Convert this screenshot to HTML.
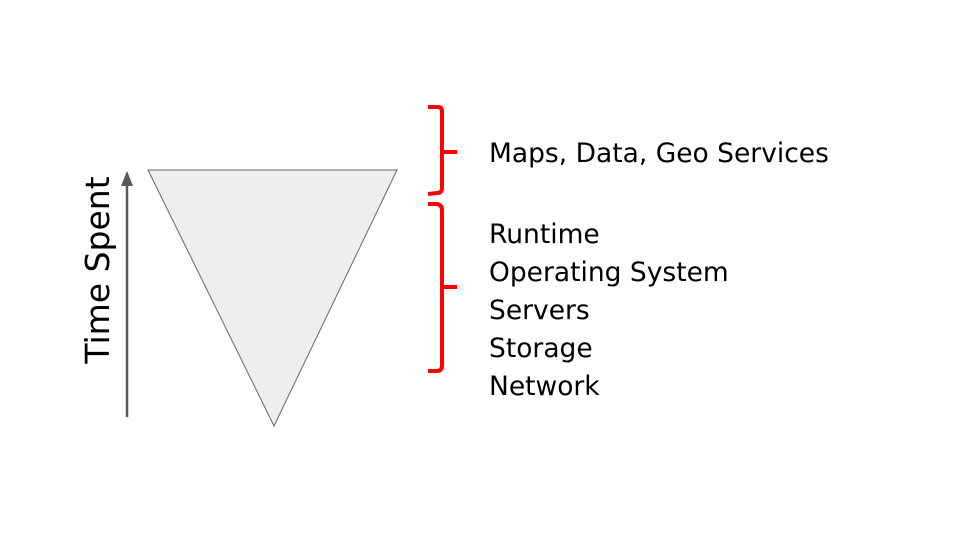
<!DOCTYPE html>
<html><head><style>
body{margin:0;width:960px;height:540px;background:#fff;overflow:hidden;position:relative;font-family:"DejaVu Sans","Liberation Sans",sans-serif;}
.t{position:absolute;left:489px;font-size:26.5px;color:#000;line-height:38px;white-space:nowrap;}
</style></head><body>
<svg width="960" height="540" style="position:absolute;left:0;top:0">
<polygon points="148,170 397,170 274,426" fill="#eeeeee" stroke="#666" stroke-width="1"/>
<line x1="127" y1="417" x2="127" y2="182" stroke="#595959" stroke-width="2.5"/>
<polygon points="121,186 127,171 133,186" fill="#595959"/>
<path d="M428,107 L438,107 Q442,107 442,112 L442,152 L457,152 M442,152 L442,188 Q442,193 437,193 L428,194" fill="none" stroke="#f00" stroke-width="4"/>
<path d="M428,204 L437,204 Q442,205 442,210 L442,287 L457,287 M442,287 L442,365 Q442,371 437,371 L428,371" fill="none" stroke="#f00" stroke-width="4"/>
<text x="0" y="0" transform="translate(109,270) rotate(-90)" text-anchor="middle" font-family="DejaVu Sans, Liberation Sans, sans-serif" font-size="33" fill="#000">Time Spent</text>
</svg>
<div class="t" style="top:135px">Maps, Data, Geo Services</div>
<div class="t" style="top:216px">Runtime<br>Operating System<br>Servers<br>Storage<br>Network</div>
</body></html>
